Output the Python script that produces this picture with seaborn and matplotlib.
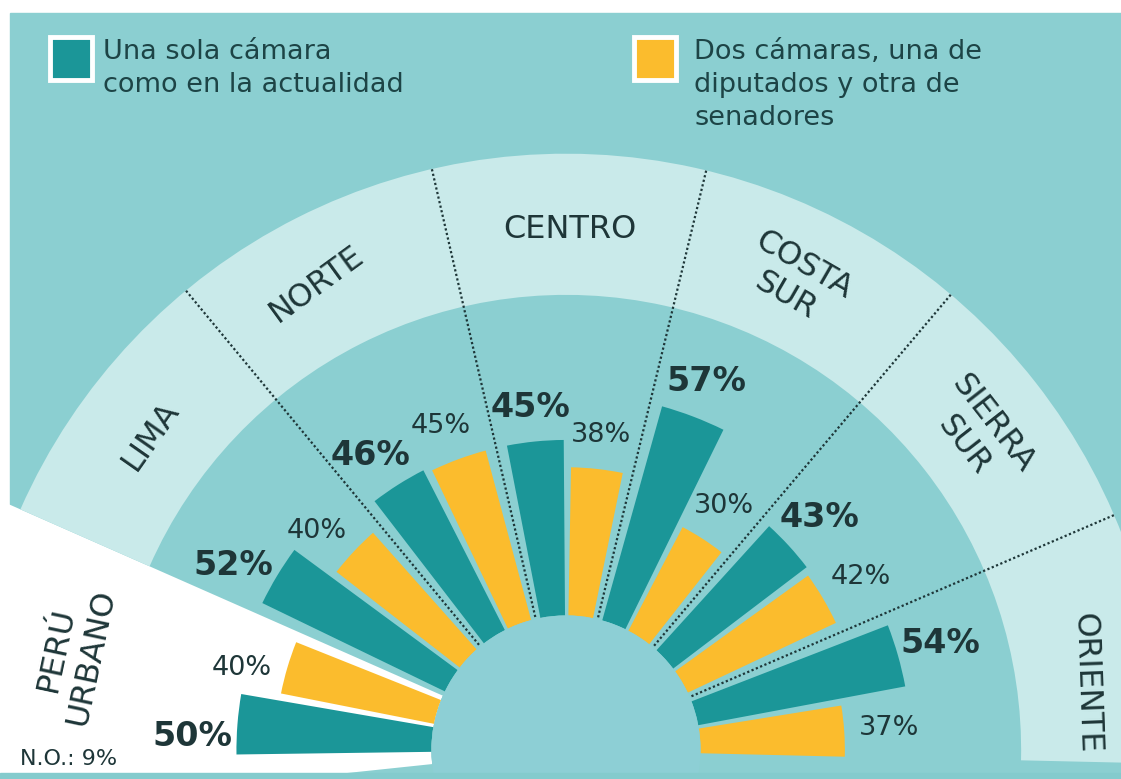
import numpy as np
import pandas as pd
import matplotlib
matplotlib.use('Agg')
import matplotlib.pyplot as plt
from matplotlib.patches import Rectangle
import seaborn as sns

# Datos (de izquierda a derecha en el abanico)
regiones = ['PERÚ\nURBANO', 'LIMA', 'NORTE', 'CENTRO', 'COSTA\nSUR', 'SIERRA\nSUR', 'ORIENTE']
una_camara = [50, 52, 46, 45, 57, 43, 54]
dos_camaras = [40, 40, 45, 38, 30, 42, 37]
no_opina = 9
serie_1 = 'Una sola cámara\ncomo en la actualidad'
serie_2 = 'Dos cámaras, una de\ndiputados y otra de\nsenadores'

sns.set_theme(style='white')
plt.rcParams['font.family'] = ['DejaVu Sans']

TEAL = '#1b9698'
YELLOW = '#fbbc2d'
BG = '#8bcfd1'
LIGHT = '#c9eaea'
HUB = '#8dcfd5'
INK = '#1e3638'

W, H = 1121, 779
fig = plt.figure(figsize=(W / 100, H / 100), dpi=100, facecolor='white')
fig.add_artist(Rectangle((10 / W, 0), 1, 1 - 13 / H, transform=fig.transFigure,
                         color=BG, zorder=-5))

# eje polar grande, centro cerca del borde inferior
cx, cy, R = 566, 29, 625
ax = fig.add_axes([(cx - R) / W, (cy - R) / H, 2 * R / W, 2 * R / H], projection='polar')
base = 34.5
ax.set_axis_off()

n = len(regiones)
step = 26.6
centros = 169.5 - step * np.arange(n)

# sector blanco de Perú urbano y banda clara de regiones
ax.bar(np.deg2rad((156.2 + 186) / 2), 200, width=np.deg2rad(186 - 156.2), bottom=0,
       color='white', linewidth=0, zorder=1)
ax.bar(np.deg2rad((156.2 - 1.3) / 2), 36.2, width=np.deg2rad(156.2 + 1.3), bottom=82.2,
       color=LIGHT, linewidth=0, zorder=1)

df = pd.DataFrame({
    'theta': np.tile(np.deg2rad(centros), 2),
    'pct': una_camara + dos_camaras,
    'serie': [serie_1] * n + [serie_2] * n,
})
sns.barplot(data=df, x='theta', y='pct', hue='serie', hue_order=[serie_2, serie_1],
            palette=[YELLOW, TEAL], native_scale=True, width=24 / 26.6, gap=0.12,
            saturation=1, errorbar=None, legend=False, linewidth=0, zorder=3, ax=ax)

ax.set_rorigin(-base)
ax.set_ylim(0, R / 3.9 - base)

# círculo central
hub = ax.bar(np.pi / 2, base, width=2 * np.pi, bottom=-base, color=HUB, linewidth=0, zorder=2)
for p in hub:
    p.set_clip_on(False)

# separadores punteados
for a in centros[2:] + step / 2:
    ax.plot([np.deg2rad(a)] * 2, [0.5, 118.4], linestyle=(0, (1, 1.1)), color=INK,
            lw=1.6, zorder=4)


# etiquetas de valores, algo desplazadas hacia fuera en el lado izquierdo
def etiqueta(ang, v, **kw):
    c = np.cos(np.deg2rad(ang))
    ax.text(np.deg2rad(ang + 2.4 * max(0.0, -c)), v + 8.5 + 3 * abs(c), f'{v}%',
            ha='center', va='center', color=INK, zorder=5, **kw)


for c, v in zip(centros, una_camara):
    etiqueta(c + 6, v, fontsize=24, fontweight='bold')
for c, v in zip(centros, dos_camaras):
    etiqueta(c - 6, v, fontsize=19.5)

# nombres de regiones
lab_theta = [168.9, 142.9, 118.1, 89.6, 64.0, 37.4, 7.3]
lab_r = [94.2, 99, 101, 99, 99.3, 98.6, 100]
rot = [78, 55, 36, 0, -30, -52, -88]
for name, th, rr, rt in zip(regiones, lab_theta, lab_r, rot):
    ax.text(np.deg2rad(th), rr, name, ha='center', va='center', rotation=rt,
            rotation_mode='anchor', multialignment='center', fontsize=23, color=INK,
            linespacing=1.2, zorder=5)

fig.text(20 / W, 1 - 759 / H, f'N.O.: {no_opina}%', fontsize=16, va='center', color=INK)

# leyenda
for (x0, y0), tx, col, txt in [((50, 37), 103, TEAL, serie_1),
                               ((634, 37), 694, YELLOW, serie_2)]:
    fig.add_artist(Rectangle((x0 / W, 1 - (y0 + 43) / H), 42 / W, 43 / H,
                             transform=fig.transFigure, facecolor=col, edgecolor='white',
                             linewidth=3.5, zorder=6))
    fig.text(tx / W, 1 - (y0 + 2) / H, txt, va='top', ha='left', fontsize=19.5,
             color='#1d4446', linespacing=1.35, zorder=6)

fig.add_artist(Rectangle((0, 0), 1, 6 / H, transform=fig.transFigure, color='#84cbcd',
                         zorder=10))

fig.savefig('out.png', dpi=100, facecolor=fig.get_facecolor())
